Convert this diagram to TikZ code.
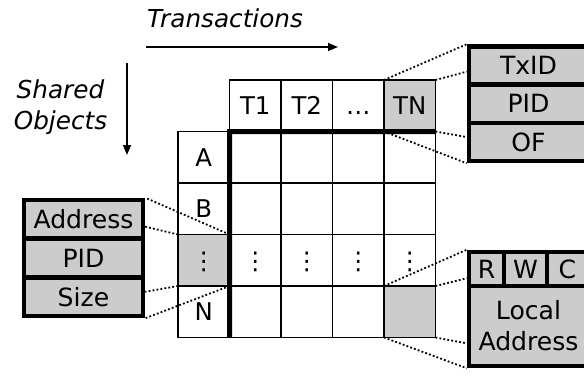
\documentclass[tikz,border=0pt]{standalone}
\usepackage{fontspec}
\setmainfont{DejaVu Sans}
\usetikzlibrary{calc,arrows.meta}
\definecolor{cellgray}{HTML}{CCCCCC}
\begin{document}
\begin{tikzpicture}[x=1bp,y=-1bp,
  cell/.style={draw, line width=1.8bp, minimum width=51.5bp, minimum height=51.5bp,
    inner sep=0pt, outer sep=0pt, text height=17.5bp, text depth=0bp,
    font=\fontsize{24.5}{28}\selectfont},
  shaded/.style={fill=cellgray},
  field/.style={draw, line width=4.5bp, fill=cellgray, inner sep=0pt, align=center,
    font=\fontsize{25.2}{31}\selectfont},
  zoomline/.style={line width=1.8bp, dash pattern=on 1.8bp off 2.2bp},
  axis/.style={line width=1.6bp, -{Triangle[length=10bp,width=8bp]}},
  axislabel/.style={font=\fontsize{24.8}{31}\selectfont\itshape, align=center}]
\useasboundingbox (0,0) rectangle (584,375);
\clip (0,0) rectangle (584,375);

% axis labels and arrows
\node[axislabel, anchor=base] (txlabel) at (225,27) {Transactions};
\coordinate (txs) at (146,47);
\coordinate (txe) at (338,47);
\draw[axis] (txs) -- (txe);
\node[axislabel] (objlabel) at (60.5,107) {Shared\\Objects};
\coordinate (obs) at (127,63);
\coordinate (obe) at (127,155);
\draw[axis] (obs) -- (obe);

% header row
\node[cell] (h1) at (255.25,105.75) {T1};
\node[cell] (h2) at (306.75,105.75) {T2};
\node[cell] (h3) at (358.25,105.75) {\dots};
\node[cell, shaded] (hN) at (409.75,105.75) {TN};

% row labels
\node[cell] (rA) at (203.75,157.25) {A};
\node[cell] (rB) at (203.75,208.75) {B};
\node[cell, shaded] (rD) at (203.75,260.25) {⋮};
\node[cell] (rN) at (203.75,311.75) {N};

% body cells
\foreach \r/\y in {A/157.25,B/208.75}
  \foreach \c/\x in {1/255.25,2/306.75,3/358.25,4/409.75}
    \node[cell] (c\r\c) at (\x,\y) {};
\foreach \c/\x in {1/255.25,2/306.75,3/358.25,4/409.75}
  \node[cell] (cD\c) at (\x,260.25) {⋮};
\foreach \c/\x in {1/255.25,2/306.75,3/358.25}
  \node[cell] (cN\c) at (\x,311.75) {};
\node[cell, shaded] (cN4) at (409.75,311.75) {};

% heavy separators between headers and body
\draw[line width=5bp] (hN.south east) -- (h1.south west) -- (rN.south east);

% transaction record
\node[field, minimum width=119bp, minimum height=38.17bp] (txid) at (528.5,65.58) {TxID};
\node[field, minimum width=119bp, minimum height=38.17bp] (tpid) at (528.5,103.75) {PID};
\node[field, minimum width=119bp, minimum height=38.17bp] (of) at (528.5,141.92) {OF};

% object record
\node[field, minimum width=119bp, minimum height=38.67bp] (addr) at (83.5,219.33) {Address};
\node[field, minimum width=119bp, minimum height=38.67bp] (opid) at (83.5,258) {PID};
\node[field, minimum width=119bp, minimum height=38.67bp] (size) at (83.5,296.67) {Size};

% access entry
\node[field, minimum width=35bp, minimum height=34bp] (rbit) at (486.5,269) {R};
\node[field, minimum width=43bp, minimum height=34bp] (wbit) at (525.5,269) {W};
\node[field, minimum width=41bp, minimum height=34bp] (cbit) at (567.5,269) {C};
\node[field, minimum width=119bp, minimum height=80bp] (laddr) at (528.5,326) {Local\\Address};

% zoom guides
\coordinate (tzA) at ($(txid.north west)!0.23!(of.south west)$);
\coordinate (tzB) at ($(txid.north west)!0.78!(of.south west)$);
\coordinate (ozA) at ($(addr.north east)!0.24!(size.south east)$);
\coordinate (ozB) at ($(addr.north east)!0.78!(size.south east)$);
\coordinate (azA) at ($(rbit.north west)!0.24!(laddr.south west)$);
\coordinate (azB) at ($(rbit.north west)!0.79!(laddr.south west)$);

\draw[zoomline] (hN.north west) -- (txid.north west);
\draw[zoomline] (hN.north east) -- (tzA);
\draw[zoomline] (hN.south east) -- (tzB);
\draw[zoomline] (hN.south west) -- (of.south west);

\draw[zoomline] (rD.north east) -- (addr.north east);
\draw[zoomline] (rD.north west) -- (ozA);
\draw[zoomline] (rD.south west) -- (ozB);
\draw[zoomline] (rD.south east) -- (size.south east);

\draw[zoomline] (cN4.north west) -- (rbit.north west);
\draw[zoomline] (cN4.north east) -- (azA);
\draw[zoomline] (cN4.south east) -- (azB);
\draw[zoomline] (cN4.south west) -- (laddr.south west);
\end{tikzpicture}
\end{document}
